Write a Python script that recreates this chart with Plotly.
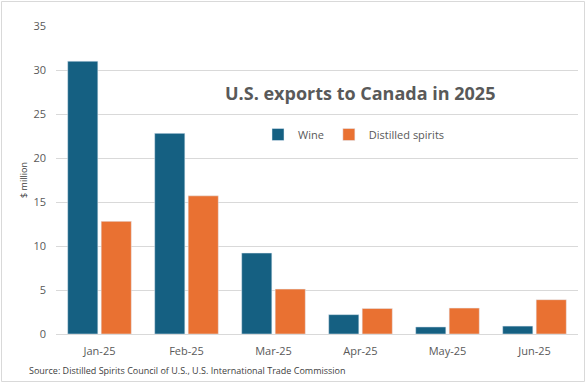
import plotly.graph_objects as go

months = ["Jan-25", "Feb-25", "Mar-25", "Apr-25", "May-25", "Jun-25"]
wine = [31.0, 22.8, 9.2, 2.2, 0.8, 0.9]
spirits = [12.8, 15.7, 5.1, 2.9, 2.95, 3.9]
y_ticks = [0, 5, 10, 15, 20, 25, 30, 35]

W, H = 586, 383
L, R, T, B = 56, 8, 26, 49
pw, ph = W - L - R, H - T - B

def px_x(x):
    return (x - L) / pw

def px_y(y):
    return (H - B - y) / ph

font = "Open Sans"

fig = go.Figure()
fig.add_trace(go.Bar(x=months, y=wine, name="Wine", marker_color="#156082"))
fig.add_trace(go.Bar(x=months, y=spirits, name="Distilled spirits", marker_color="#E97132"))

fig.update_layout(
    width=W, height=H,
    margin=dict(l=L, r=R, t=T, b=B),
    paper_bgcolor="white", plot_bgcolor="white",
    barmode="group", bargap=0.23, bargroupgap=0.1,
    font=dict(family=font, color="#595959", size=11),
    showlegend=True,
    legend=dict(orientation="h", x=px_x(258), y=px_y(120), xanchor="left", yanchor="top",
                font=dict(size=11, color="#595959"), bgcolor="rgba(0,0,0,0)",
                itemwidth=30, tracegroupgap=0),
    xaxis=dict(showgrid=False, showline=True, linecolor="#d9d9d9", ticks="",
               ticklabelstandoff=7, tickfont=dict(size=11, color="#595959")),
    yaxis=dict(range=[0, 35], tickvals=y_ticks, showgrid=True, gridcolor="#d9d9d9",
               zeroline=False, ticks="", ticklabelstandoff=9,
               tickfont=dict(size=11, color="#595959"),
               title=dict(text="$ million", font=dict(size=9, color="#404040"), standoff=4)),
    annotations=[
        dict(text="<b>U.S. exports to Canada in 2025</b>", xref="paper", yref="paper",
             x=px_x(360), y=px_y(93), xanchor="center", yanchor="middle", showarrow=False,
             font=dict(size=18, color="#595959", family=font)),
        dict(text="Source: Distilled Spirits Council of U.S., U.S. International Trade Commission",
             xref="paper", yref="paper", x=px_x(27), y=px_y(370), xanchor="left", yanchor="middle",
             showarrow=False, font=dict(size=9, color="#404040", family=font)),
    ],
    shapes=[dict(type="rect", xref="paper", yref="paper",
                 x0=px_x(1.5), x1=px_x(584.5), y0=px_y(381.5), y1=px_y(1.5),
                 line=dict(color="#d9d9d9", width=1), layer="below")],
)

fig.write_html("out.html", config={"displayModeBar": False},
               post_script="document.body.style.margin='0px';")
